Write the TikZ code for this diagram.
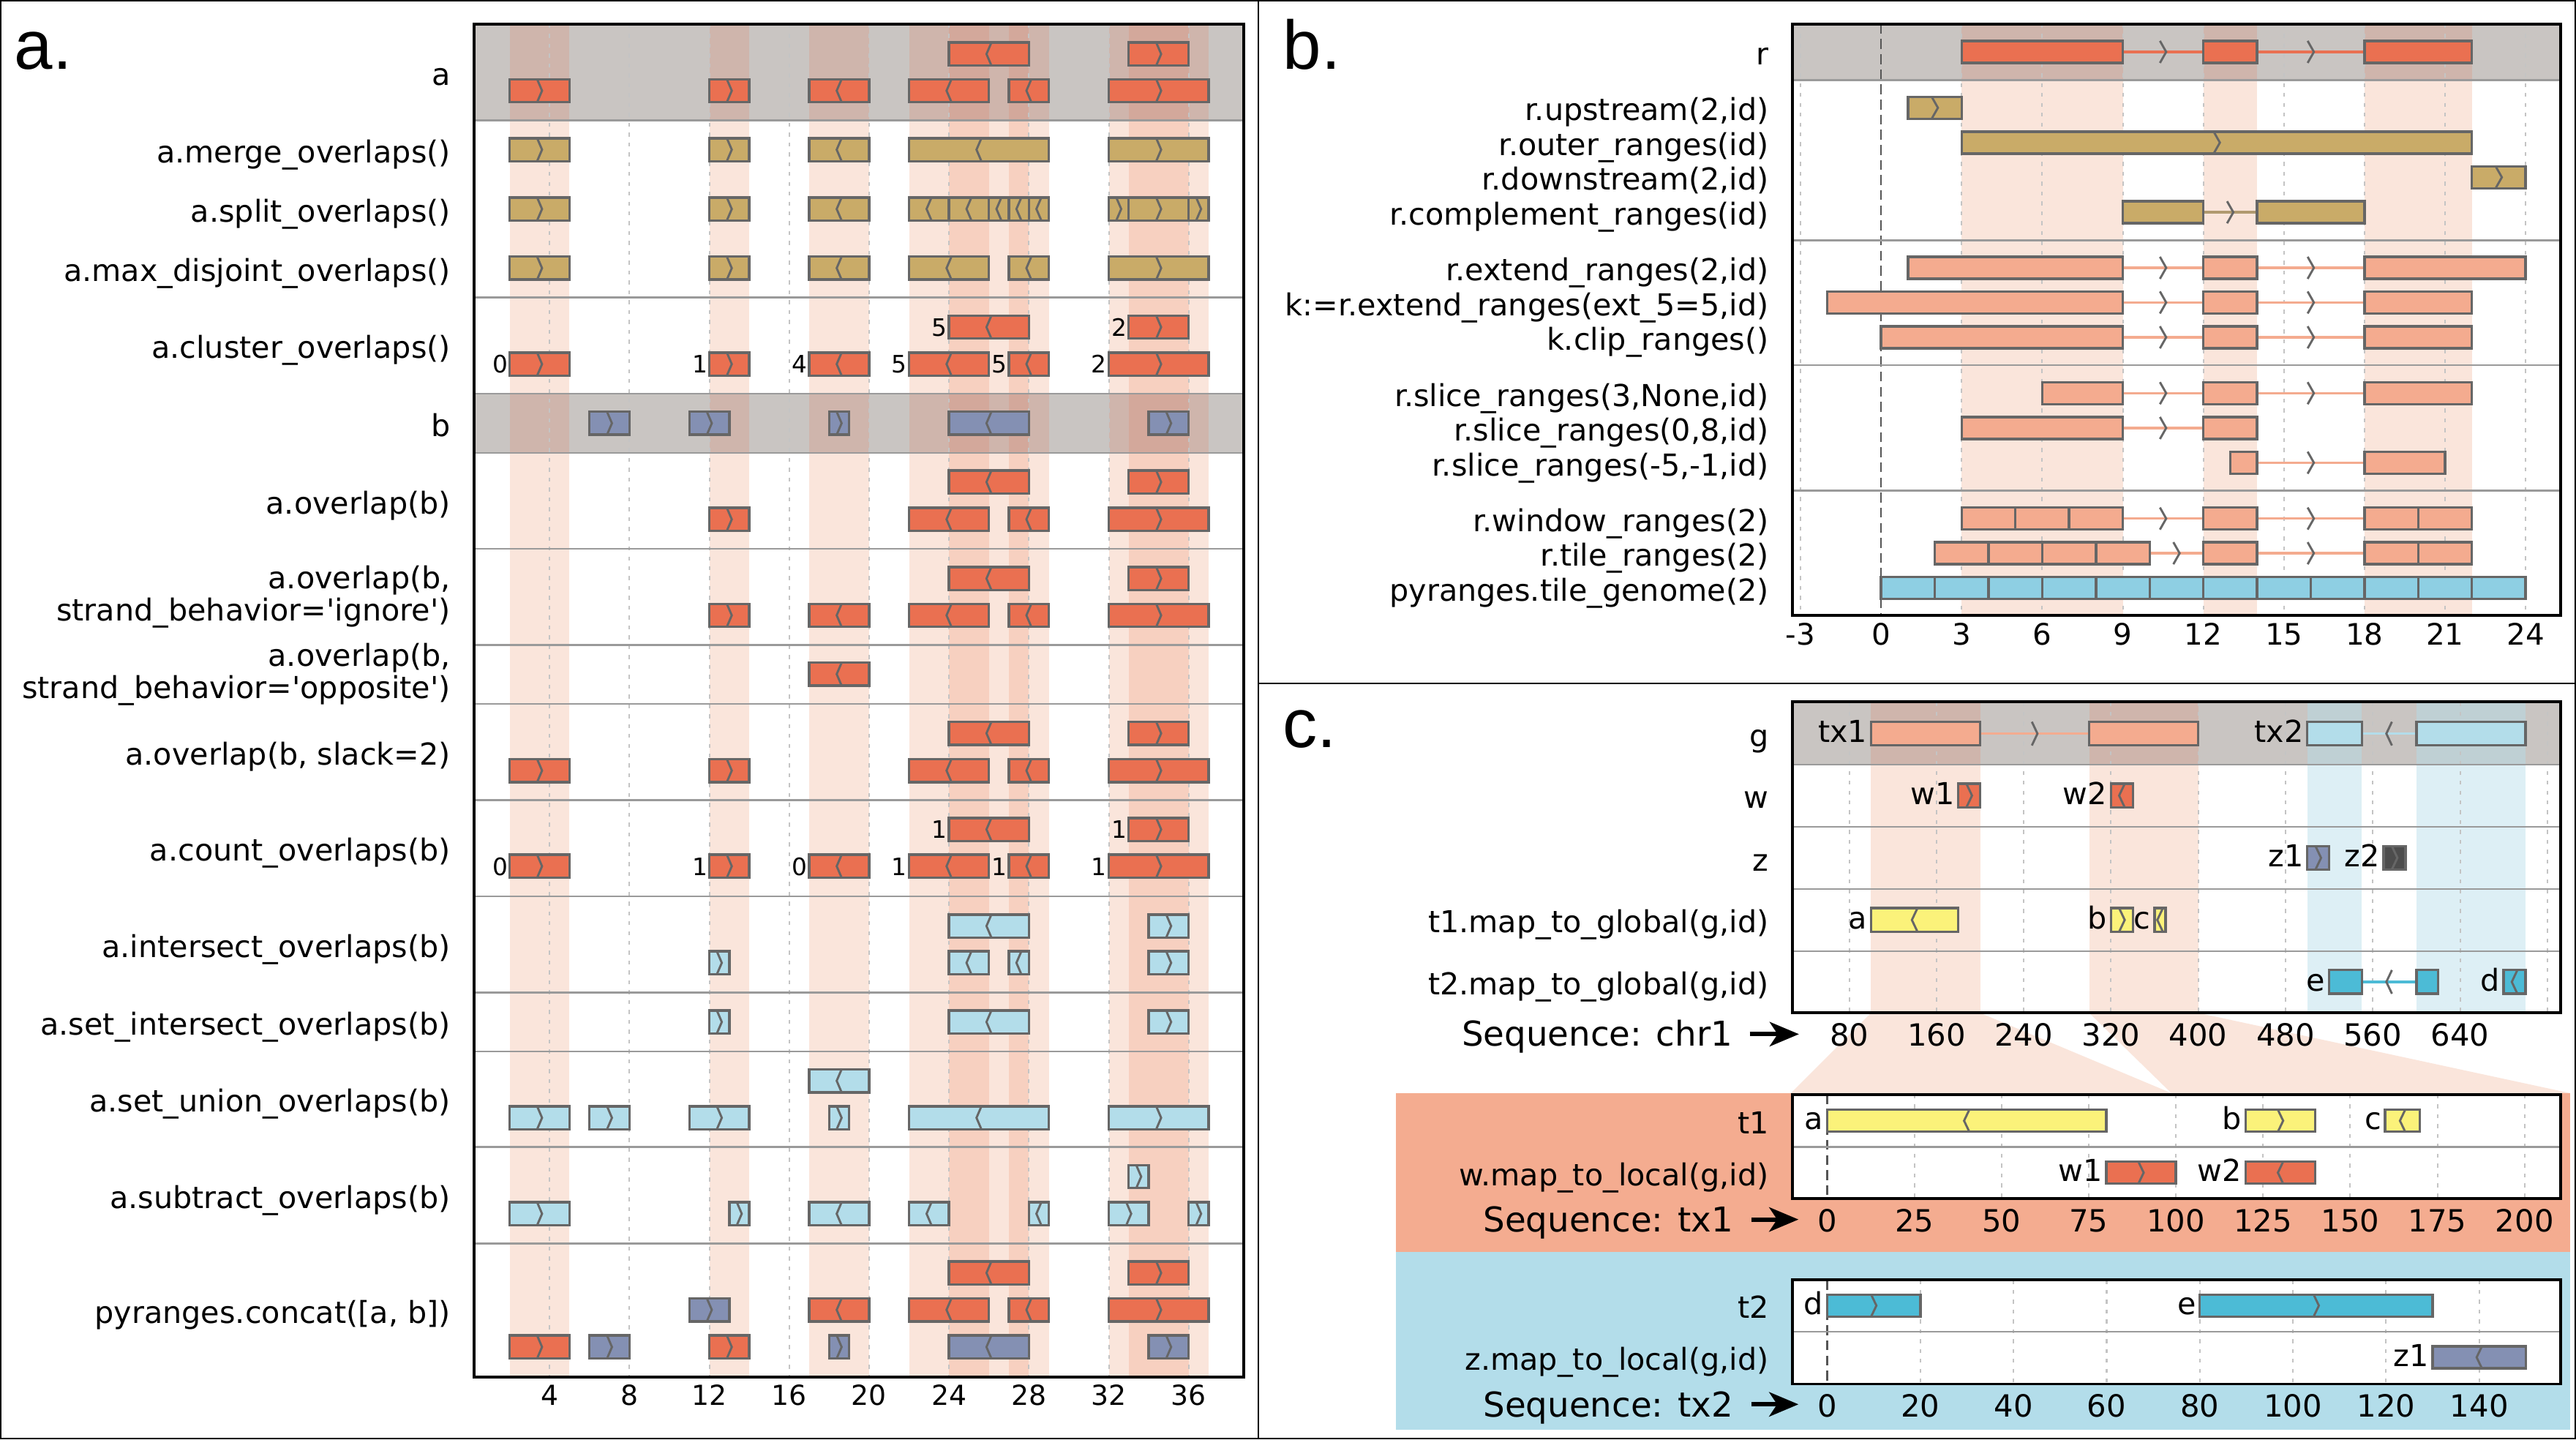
\documentclass[tikz,border=0pt]{standalone}
\usepackage{fontspec}
\setmainfont{DejaVu Sans}
\newfontfamily\letterfont{Liberation Sans}
\usetikzlibrary{arrows.meta}
\definecolor{cRed}{HTML}{EA7051}
\definecolor{cGold}{HTML}{C9AB68}
\definecolor{cBgray}{HTML}{8490B3}
\definecolor{cLblue}{HTML}{B3DDEA}
\definecolor{cSalmon}{HTML}{F4AB8F}
\definecolor{cSalmonBg}{HTML}{F4AC90}
\definecolor{cSky}{HTML}{8ECFE3}
\definecolor{cYellow}{HTML}{FBF27A}
\definecolor{cCyan}{HTML}{4CBBD6}
\definecolor{cBand}{HTML}{C9C5C2}
\definecolor{cEdge}{HTML}{666666}
\definecolor{cSep}{HTML}{9A9A9A}
\definecolor{cGrid}{HTML}{C4C4C4}
\definecolor{cDark}{HTML}{4D4D4D}
\definecolor{cBrown}{HTML}{B09A70}
\definecolor{cZero}{HTML}{555555}
\definecolor{cShL1}{HTML}{FAE5DB}
\definecolor{cShL2}{HTML}{F7D0C0}
\definecolor{cShG1}{HTML}{CFB5AC}
\definecolor{cShG2}{HTML}{D3A89B}
\definecolor{cShB1}{HTML}{DDEFF5}
\definecolor{cShBG}{HTML}{BFD0D4}
\tikzset{
 ivl/.style={draw=cEdge, line width=0.75pt},
 chev/.style={draw=cEdge, line width=0.65pt},
 intr/.style={line width=0.75pt},
 band/.style={fill=cBand},
 sepline/.style={draw=cSep, line width=0.6pt},
 gridline/.style={draw=cGrid, line width=0.45pt, dash pattern=on 1.2pt off 1.8pt},
 zeroline/.style={draw=cZero, line width=0.5pt, dash pattern=on 3pt off 1.6pt},
 plotframe/.style={draw=black, line width=0.85pt},
 thinframe/.style={draw=black, line width=0.4pt},
 lbl/.style={font=\fontsize{9.2}{9.2}\selectfont, anchor=mid east, inner sep=0pt, yshift=-1.2pt},
 lbltwo/.style={font=\fontsize{9.2}{8.8}\selectfont, anchor=east, inner sep=0pt, align=right},
 numlbl/.style={font=\fontsize{7.3}{7.3}\selectfont, anchor=mid east, inner sep=0pt, xshift=-0.4pt},
 barlbl/.style={font=\fontsize{9.2}{9.2}\selectfont, anchor=mid east, inner sep=0pt, xshift=-1pt},
 tickA/.style={font=\fontsize{8.4}{8.4}\selectfont, anchor=base, inner sep=0pt},
 tickB/.style={font=\fontsize{9}{9}\selectfont, anchor=base, inner sep=0pt},
 tickC/.style={font=\fontsize{9.3}{9.3}\selectfont, anchor=base, inner sep=0pt},
 seqlbl/.style={font=\fontsize{10.4}{10.4}\selectfont, anchor=base east, inner sep=0pt},
 seqarrow/.style={line width=1.3pt, -{Stealth[length=8.9pt,width=7.4pt,inset=2.4pt]}},
 letter/.style={font=\letterfont\fontsize{21}{21}\selectfont, anchor=base west, inner sep=0pt},
}
\def\bh{7}
\def\cw{0.75pt}
\newcommand\mychevp[2]{\draw[chev] ({#1},{#2-\bh}) ++({-\cw},0pt) -- ++({2*\cw},{-\bh*0.5pt}) -- ++({-2*\cw},{-\bh*0.5pt});}
\newcommand\mychevm[2]{\draw[chev] ({#1},{#2-\bh}) ++({\cw},0pt) -- ++({-2*\cw},{-\bh*0.5pt}) -- ++({2*\cw},{-\bh*0.5pt});}
\newcommand\mychevn[2]{}
\newcommand\myivl[5]{\filldraw[ivl,fill=#4] (#1,{#3-\bh}) rectangle (#2,{#3+\bh}); \csname mychev#5\endcsname{(#1+#2)/2}{#3}}
\newcommand\myintron[5]{\draw[intr,draw=#4] (#1,#3) -- (#2,#3); \csname mychev#5\endcsname{(#1+#2)/2}{#3}}
\newcommand\rowAhigh[1]{\myivl{24}{28}{#1}{cRed}{m}\myivl{33}{36}{#1}{cRed}{p}}
\newcommand\rowAlow[1]{\myivl{2}{5}{#1}{cRed}{p}\myivl{12}{14}{#1}{cRed}{p}\myivl{17}{20}{#1}{cRed}{m}\myivl{22}{26}{#1}{cRed}{m}\myivl{27}{29}{#1}{cRed}{m}\myivl{32}{37}{#1}{cRed}{p}}
% shaded columns of panel a between two heights, with two tints
\newcommand\colsA[4]{\begin{scope}[shift={(285.9,0)},x=6.078pt]
 \foreach \s/\e in {2/5,12/14,17/20,22/29,32/37} \fill[#3] (\s,#1) rectangle (\e,#2);
 \foreach \s/\e in {24/26,27/28,33/36} \fill[#4] (\s,#1) rectangle (\e,#2);
 \end{scope}}
\begin{document}
\begin{tikzpicture}[x=0.5pt,y=-0.5pt]
\useasboundingbox (0,0) rectangle (1568,876);
\fill[white] (0,0) rectangle (1568,876);

%%%%%%%%%%%%%%%% PANEL A
\colsA{14.7}{838}{cShL1}{cShL2}
\fill[band] (288.6,14.7) rectangle (757,73.2);
\colsA{14.7}{73.2}{cShG1}{cShG2}
\fill[band] (288.6,239.6) rectangle (757,275.6);
\colsA{239.6}{275.6}{cShG1}{cShG2}
\begin{scope}[shift={(285.9,0)},x=6.078pt]
 \foreach \t in {4,8,...,36} \draw[gridline] (\t,14.7) -- (\t,838);
\end{scope}
\foreach \yy in {73.2,181.1,239.6,275.6,334,392.5,428.4,486.9,545.5,604,639.9,698.2,756.8} \draw[sepline] (288.6,\yy) -- (757,\yy);
\begin{scope}[shift={(285.9,0)},x=6.078pt]
 \rowAhigh{32.9}\rowAlow{55.2}
 % merge
 \myivl{2}{5}{91.1}{cGold}{p}\myivl{12}{14}{91.1}{cGold}{p}\myivl{17}{20}{91.1}{cGold}{m}\myivl{22}{29}{91.1}{cGold}{m}\myivl{32}{37}{91.1}{cGold}{p}
 % split
 \myivl{2}{5}{127.2}{cGold}{p}\myivl{12}{14}{127.2}{cGold}{p}\myivl{17}{20}{127.2}{cGold}{m}
 \myivl{22}{24}{127.2}{cGold}{m}\myivl{24}{26}{127.2}{cGold}{m}\myivl{26}{27}{127.2}{cGold}{m}\myivl{27}{28}{127.2}{cGold}{m}\myivl{28}{29}{127.2}{cGold}{m}
 \myivl{32}{33}{127.2}{cGold}{p}\myivl{33}{36}{127.2}{cGold}{p}\myivl{36}{37}{127.2}{cGold}{p}
 % max disjoint
 \myivl{2}{5}{163.2}{cGold}{p}\myivl{12}{14}{163.2}{cGold}{p}\myivl{17}{20}{163.2}{cGold}{m}\myivl{22}{26}{163.2}{cGold}{m}\myivl{27}{29}{163.2}{cGold}{m}\myivl{32}{37}{163.2}{cGold}{p}
 % cluster
 \rowAhigh{199.1}\rowAlow{221.6}
 \node[numlbl] (cl1) at (24,199.1) {5}; \node[numlbl] (cl2) at (33,199.1) {2};
 \node[numlbl] (cl3) at (2,221.6) {0}; \node[numlbl] (cl4) at (12,221.6) {1};
 \node[numlbl] (cl5) at (17,221.6) {4}; \node[numlbl] (cl6) at (22,221.6) {5};
 \node[numlbl] (cl7) at (27,221.6) {5}; \node[numlbl] (cl8) at (32,221.6) {2};
 % b
 \myivl{6}{8}{257.6}{cBgray}{p}\myivl{11}{13}{257.6}{cBgray}{p}\myivl{18}{19}{257.6}{cBgray}{p}\myivl{24}{28}{257.6}{cBgray}{m}\myivl{34}{36}{257.6}{cBgray}{p}
 % overlap
 \rowAhigh{293.4}
 \myivl{12}{14}{316.1}{cRed}{p}\myivl{22}{26}{316.1}{cRed}{m}\myivl{27}{29}{316.1}{cRed}{m}\myivl{32}{37}{316.1}{cRed}{p}
 % ignore
 \rowAhigh{352.1}
 \myivl{12}{14}{374.5}{cRed}{p}\myivl{17}{20}{374.5}{cRed}{m}\myivl{22}{26}{374.5}{cRed}{m}\myivl{27}{29}{374.5}{cRed}{m}\myivl{32}{37}{374.5}{cRed}{p}
 % opposite
 \myivl{17}{20}{410.3}{cRed}{m}
 % slack
 \rowAhigh{446.3}
 \myivl{2}{5}{469}{cRed}{p}\myivl{12}{14}{469}{cRed}{p}\myivl{22}{26}{469}{cRed}{m}\myivl{27}{29}{469}{cRed}{m}\myivl{32}{37}{469}{cRed}{p}
 % count
 \rowAhigh{504.8}\rowAlow{527.2}
 \node[numlbl] (co1) at (24,504.8) {1}; \node[numlbl] (co2) at (33,504.8) {1};
 \node[numlbl] (co3) at (2,527.2) {0}; \node[numlbl] (co4) at (12,527.2) {1};
 \node[numlbl] (co5) at (17,527.2) {0}; \node[numlbl] (co6) at (22,527.2) {1};
 \node[numlbl] (co7) at (27,527.2) {1}; \node[numlbl] (co8) at (32,527.2) {1};
 % intersect
 \myivl{24}{28}{563.6}{cLblue}{m}\myivl{34}{36}{563.6}{cLblue}{p}
 \myivl{12}{13}{586}{cLblue}{p}\myivl{24}{26}{586}{cLblue}{m}\myivl{27}{28}{586}{cLblue}{m}\myivl{34}{36}{586}{cLblue}{p}
 % set intersect
 \myivl{12}{13}{622}{cLblue}{p}\myivl{24}{28}{622}{cLblue}{m}\myivl{34}{36}{622}{cLblue}{p}
 % union
 \myivl{17}{20}{657.8}{cLblue}{m}
 \myivl{2}{5}{680.3}{cLblue}{p}\myivl{6}{8}{680.3}{cLblue}{p}\myivl{11}{14}{680.3}{cLblue}{p}\myivl{18}{19}{680.3}{cLblue}{p}\myivl{22}{29}{680.3}{cLblue}{m}\myivl{32}{37}{680.3}{cLblue}{p}
 % subtract
 \myivl{33}{34}{716.1}{cLblue}{p}
 \myivl{2}{5}{738.7}{cLblue}{p}\myivl{13}{14}{738.7}{cLblue}{p}\myivl{17}{20}{738.7}{cLblue}{m}\myivl{22}{24}{738.7}{cLblue}{m}\myivl{28}{29}{738.7}{cLblue}{m}\myivl{32}{34}{738.7}{cLblue}{p}\myivl{36}{37}{738.7}{cLblue}{p}
 % concat
 \rowAhigh{774.7}
 \myivl{11}{13}{797.2}{cBgray}{p}\myivl{17}{20}{797.2}{cRed}{m}\myivl{22}{26}{797.2}{cRed}{m}\myivl{27}{29}{797.2}{cRed}{m}\myivl{32}{37}{797.2}{cRed}{p}
 \myivl{2}{5}{819.8}{cRed}{p}\myivl{6}{8}{819.8}{cBgray}{p}\myivl{12}{14}{819.8}{cRed}{p}\myivl{18}{19}{819.8}{cBgray}{p}\myivl{24}{28}{819.8}{cBgray}{m}\myivl{34}{36}{819.8}{cBgray}{p}
 % ticks
 \foreach \t in {4,8,...,36} \node[tickA] (ta\t) at (\t,855.2) {\t};
\end{scope}
\draw[plotframe] (288.6,14.7) rectangle (757,838);
\node[lbl] (la0) at (274.6,44) {a};
\node[lbl] (la1) at (274.6,91.1) {a.merge\_overlaps()};
\node[lbl] (la2) at (274.6,127.2) {a.split\_overlaps()};
\node[lbl] (la3) at (274.6,163.2) {a.max\_disjoint\_overlaps()};
\node[lbl] (la4) at (274.6,210.3) {a.cluster\_overlaps()};
\node[lbl] (la5) at (274.6,257.6) {b};
\node[lbl] (la6) at (274.6,304.8) {a.overlap(b)};
\node[lbltwo] (la7) at (274.6,363.2) {a.overlap(b,\\strand\_behavior=\textquotesingle ignore\textquotesingle)};
\node[lbltwo] (la8) at (274.6,410.4) {a.overlap(b,\\strand\_behavior=\textquotesingle opposite\textquotesingle)};
\node[lbl] (la9) at (274.6,457.6) {a.overlap(b, slack=2)};
\node[lbl] (la10) at (274.6,516.2) {a.count\_overlaps(b)};
\node[lbl] (la11) at (274.6,574.8) {a.intersect\_overlaps(b)};
\node[lbl] (la12) at (274.6,622) {a.set\_intersect\_overlaps(b)};
\node[lbl] (la13) at (274.6,669) {a.set\_union\_overlaps(b)};
\node[lbl] (la14) at (274.6,727.5) {a.subtract\_overlaps(b)};
\node[lbl] (la15) at (274.6,797.3) {pyranges.concat([a, b])};

%%%%%%%%%%%%%%%% PANEL B
\begin{scope}[shift={(1145,0)},x=8.173pt]
 \foreach \s/\e in {3/9,12/14,18/22} \fill[cShL1] (\s,14.6) rectangle (\e,374.5);
\end{scope}
\fill[band] (1091,14.6) rectangle (1558.7,48.7);
\begin{scope}[shift={(1145,0)},x=8.173pt]
 \foreach \s/\e in {3/9,12/14,18/22} \fill[cShG1] (\s,14.6) rectangle (\e,48.7);
 \foreach \t in {-3,3,6,...,24} \draw[gridline] (\t,14.6) -- (\t,374.5);
 \draw[zeroline] (0,14.6) -- (0,374.5);
\end{scope}
\foreach \yy in {48.7,146.2,222.2,298.5} \draw[sepline] (1091,\yy) -- (1558.7,\yy);
\begin{scope}[shift={(1145,0)},x=8.173pt]
 \def\bh{6.7}\def\cw{0.95pt}
 % r
 \myintron{9}{12}{31.6}{cRed}{p}\myintron{14}{18}{31.6}{cRed}{p}
 \myivl{3}{9}{31.6}{cRed}{n}\myivl{12}{14}{31.6}{cRed}{n}\myivl{18}{22}{31.6}{cRed}{n}
 \myivl{1}{3}{65.6}{cGold}{p}
 \myivl{3}{22}{86.8}{cGold}{p}
 \myivl{22}{24}{107.9}{cGold}{p}
 \myintron{12}{14}{129.2}{cBrown}{p}\myivl{9}{12}{129.2}{cGold}{n}\myivl{14}{18}{129.2}{cGold}{n}
 % extend
 \myintron{9}{12}{163}{cSalmon}{p}\myintron{14}{18}{163}{cSalmon}{p}
 \myivl{1}{9}{163}{cSalmon}{n}\myivl{12}{14}{163}{cSalmon}{n}\myivl{18}{24}{163}{cSalmon}{n}
 \myintron{9}{12}{184.1}{cSalmon}{p}\myintron{14}{18}{184.1}{cSalmon}{p}
 \myivl{-2}{9}{184.1}{cSalmon}{n}\myivl{12}{14}{184.1}{cSalmon}{n}\myivl{18}{22}{184.1}{cSalmon}{n}
 \myintron{9}{12}{205.3}{cSalmon}{p}\myintron{14}{18}{205.3}{cSalmon}{p}
 \myivl{0}{9}{205.3}{cSalmon}{n}\myivl{12}{14}{205.3}{cSalmon}{n}\myivl{18}{22}{205.3}{cSalmon}{n}
 % slice
 \myintron{9}{12}{239.3}{cSalmon}{p}\myintron{14}{18}{239.3}{cSalmon}{p}
 \myivl{6}{9}{239.3}{cSalmon}{n}\myivl{12}{14}{239.3}{cSalmon}{n}\myivl{18}{22}{239.3}{cSalmon}{n}
 \myintron{9}{12}{260.5}{cSalmon}{p}
 \myivl{3}{9}{260.5}{cSalmon}{n}\myivl{12}{14}{260.5}{cSalmon}{n}
 \myintron{14}{18}{281.6}{cSalmon}{p}
 \myivl{13}{14}{281.6}{cSalmon}{n}\myivl{18}{21}{281.6}{cSalmon}{n}
 % window
 \myintron{9}{12}{315.6}{cSalmon}{p}\myintron{14}{18}{315.6}{cSalmon}{p}
 \myivl{3}{5}{315.6}{cSalmon}{n}\myivl{5}{7}{315.6}{cSalmon}{n}\myivl{7}{9}{315.6}{cSalmon}{n}
 \myivl{12}{14}{315.6}{cSalmon}{n}\myivl{18}{20}{315.6}{cSalmon}{n}\myivl{20}{22}{315.6}{cSalmon}{n}
 % tile
 \myintron{10}{12}{336.7}{cSalmon}{p}\myintron{14}{18}{336.7}{cSalmon}{p}
 \myivl{2}{4}{336.7}{cSalmon}{n}\myivl{4}{6}{336.7}{cSalmon}{n}\myivl{6}{8}{336.7}{cSalmon}{n}\myivl{8}{10}{336.7}{cSalmon}{n}
 \myivl{12}{14}{336.7}{cSalmon}{n}\myivl{18}{20}{336.7}{cSalmon}{n}\myivl{20}{22}{336.7}{cSalmon}{n}
 % genome
 \foreach \s in {0,2,...,22} {\myivl{\s}{\s+2}{357.8}{cSky}{n}}
 \foreach \t [count=\i] in {-3,0,3,...,24} \node[tickB] (tb\i) at (\t,392.6) {\t};
\end{scope}
\draw[plotframe] (1091,14.6) rectangle (1558.7,374.5);
\node[lbl] (lb0) at (1077,31.6) {r};
\node[lbl] (lb1) at (1077,65.6) {r.upstream(2,id)};
\node[lbl] (lb2) at (1077,86.8) {r.outer\_ranges(id)};
\node[lbl] (lb3) at (1077,107.9) {r.downstream(2,id)};
\node[lbl] (lb4) at (1077,129.2) {r.complement\_ranges(id)};
\node[lbl] (lb5) at (1077,163) {r.extend\_ranges(2,id)};
\node[lbl] (lb6) at (1077,184.1) {k:=r.extend\_ranges(ext\_5=5,id)};
\node[lbl] (lb7) at (1077,205.3) {k.clip\_ranges()};
\node[lbl] (lb8) at (1077,239.3) {r.slice\_ranges(3,None,id)};
\node[lbl] (lb9) at (1077,260.5) {r.slice\_ranges(0,8,id)};
\node[lbl] (lb10) at (1077,281.6) {r.slice\_ranges(-5,-1,id)};
\node[lbl] (lb11) at (1077,315.6) {r.window\_ranges(2)};
\node[lbl] (lb12) at (1077,336.7) {r.tile\_ranges(2)};
\node[lbl] (lb13) at (1077,357.8) {pyranges.tile\_genome(2)};

%%%%%%%%%%%%%%%% PANEL C
\fill[cShL1] (1138.9,616.5) -- (1205.3,616.5) -- (1321.7,665.3) -- (1090.1,665.3) -- cycle;
\fill[cShL1] (1271.7,616.5) -- (1338.1,616.5) -- (1564.4,665.3) -- (1321.7,665.3) -- cycle;
\begin{scope}[shift={(1072.5,0)},x=0.33195pt]
 \fill[cShL1] (100,427.2) rectangle (200,616.5);
 \fill[cShL1] (300,427.2) rectangle (400,616.5);
 \fill[cShB1] (500,427.2) rectangle (550,616.5);
 \fill[cShB1] (600,427.2) rectangle (700,616.5);
\end{scope}
\fill[band] (1091,427.2) rectangle (1558.8,465.4);
\begin{scope}[shift={(1072.5,0)},x=0.33195pt]
 \fill[cShG1] (100,427.2) rectangle (200,465.4);
 \fill[cShG1] (300,427.2) rectangle (400,465.4);
 \fill[cShBG] (500,427.2) rectangle (550,465.4);
 \fill[cShBG] (600,427.2) rectangle (700,465.4);
 \foreach \t in {80,160,...,720} \draw[gridline] (\t,427.2) -- (\t,616.5);
\end{scope}
\foreach \yy in {465.4,503.2,541.1,578.9} \draw[sepline] (1091,\yy) -- (1558.8,\yy);
\begin{scope}[shift={(1072.5,0)},x=0.33195pt]
 \def\bh{7.2}\def\cw{0.85pt}
 \myintron{200}{300}{446.5}{cSalmon}{p}\myivl{100}{200}{446.5}{cSalmon}{n}\myivl{300}{400}{446.5}{cSalmon}{n}
 \myintron{550}{600}{446.5}{cLblue}{m}\myivl{500}{550}{446.5}{cLblue}{n}\myivl{600}{700}{446.5}{cLblue}{n}
 \myivl{180}{200}{484.2}{cRed}{p}\myivl{320}{340}{484.2}{cRed}{m}
 \myivl{500}{520}{522.1}{cBgray}{p}\myivl{570}{590}{522.1}{cDark}{p}
 \myivl{100}{180}{559.9}{cYellow}{m}\myivl{320}{340}{559.9}{cYellow}{p}\myivl{360}{370}{559.9}{cYellow}{m}
 \myintron{550}{600}{597.6}{cCyan}{m}\myivl{520}{550}{597.6}{cCyan}{n}\myivl{600}{620}{597.6}{cCyan}{n}\myivl{680}{700}{597.6}{cCyan}{m}
 \node[barlbl] (ltx1) at (100,446.5) {tx1};
 \node[barlbl] (ltx2) at (500,446.5) {tx2};
 \node[barlbl] (lw1) at (180,484.2) {w1};
 \node[barlbl] (lw2) at (320,484.2) {w2};
 \node[barlbl] (lz1) at (500,522.1) {z1};
 \node[barlbl] (lz2) at (570,522.1) {z2};
 \node[barlbl] (lca) at (100,559.9) {a};
 \node[barlbl] (lcb) at (320,559.9) {b};
 \node[barlbl] (lcc) at (360,559.9) {c};
 \node[barlbl] (lce) at (520,597.6) {e};
 \node[barlbl] (lcd) at (680,597.6) {d};
 \foreach \t in {80,160,...,640} \node[tickC] (tc\t) at (\t,636.6) {\t};
\end{scope}
\draw[plotframe] (1091,427.2) rectangle (1558.8,616.5);
\node[lbl] (lc0) at (1077,446.5) {g};
\node[lbl] (lc1) at (1077,484.2) {w};
\node[lbl] (lc2) at (1077,522.1) {z};
\node[lbl] (lc3) at (1077,559.9) {t1.map\_to\_global(g,id)};
\node[lbl] (lc4) at (1077,597.6) {t2.map\_to\_global(g,id)};
\node[seqlbl] (seq0) at (1055,636.5) {Sequence: chr1};
\coordinate (arr0s) at (1065,629.4); \coordinate (arr0e) at (1095,629.4);
\draw[seqarrow] (arr0s) -- (arr0e);

% sub-panels
\fill[cSalmonBg] (849.8,665.3) rectangle (1564.4,761.8);
\fill[cLblue] (849.8,761.8) rectangle (1564.4,870.2);
\fill[white] (1091,666.2) rectangle (1558.8,729.5);
\fill[white] (1091,779) rectangle (1558.8,842.3);
\begin{scope}[shift={(1112.2,0)},x=1.06125pt]
 \foreach \t in {25,50,...,200} \draw[gridline] (\t,666.2) -- (\t,729.5);
 \draw[zeroline] (0,666.2) -- (0,729.5);
\end{scope}
\draw[sepline] (1091,698) -- (1558.8,698);
\begin{scope}[shift={(1112.2,0)},x=1.06125pt]
 \def\bh{6.7}\def\cw{0.8pt}
 \myivl{0}{80}{682.1}{cYellow}{m}\myivl{120}{140}{682.1}{cYellow}{p}\myivl{160}{170}{682.1}{cYellow}{m}
 \myivl{80}{100}{713.7}{cRed}{p}\myivl{120}{140}{713.7}{cRed}{m}
 \node[barlbl] (lta) at (0,682.1) {a};
 \node[barlbl] (ltb) at (120,682.1) {b};
 \node[barlbl] (ltc) at (160,682.1) {c};
 \node[barlbl] (ltw1) at (80,713.7) {w1};
 \node[barlbl] (ltw2) at (120,713.7) {w2};
 \foreach \t in {0,25,...,200} \node[tickC] (td\t) at (\t,749.7) {\t};
\end{scope}
\draw[plotframe] (1091,666.2) rectangle (1558.8,729.5);
\node[lbl] (ls0) at (1077,682.1) {t1};
\node[lbl] (ls1) at (1077,713.7) {w.map\_to\_local(g,id)};
\node[seqlbl] (seq1) at (1055.4,749.8) {Sequence: tx1};
\coordinate (arr1s) at (1066,742.2); \coordinate (arr1e) at (1094.7,742.2);
\draw[seqarrow] (arr1s) -- (arr1e);

\begin{scope}[shift={(1112.2,0)},x=1.4175pt]
 \foreach \t in {20,40,...,140} \draw[gridline] (\t,779) -- (\t,842.3);
 \draw[zeroline] (0,779) -- (0,842.3);
\end{scope}
\draw[sepline] (1091,810.5) -- (1558.8,810.5);
\begin{scope}[shift={(1112.2,0)},x=1.4175pt]
 \def\bh{6.7}\def\cw{0.8pt}
 \myivl{0}{20}{794.6}{cCyan}{p}\myivl{80}{130}{794.6}{cCyan}{p}
 \myivl{130}{150}{826.1}{cBgray}{m}
 \node[barlbl] (ltd) at (0,794.6) {d};
 \node[barlbl] (lte) at (80,794.6) {e};
 \node[barlbl] (ltz1) at (130,826.1) {z1};
 \foreach \t in {0,20,...,140} \node[tickC] (te\t) at (\t,862.2) {\t};
\end{scope}
\draw[plotframe] (1091,779) rectangle (1558.8,842.3);
\node[lbl] (ls2) at (1077,794.6) {t2};
\node[lbl] (ls3) at (1077,826.1) {z.map\_to\_local(g,id)};
\node[seqlbl] (seq2) at (1055.4,862.3) {Sequence: tx2};
\coordinate (arr2s) at (1066,854.7); \coordinate (arr2e) at (1094.7,854.7);
\draw[seqarrow] (arr2s) -- (arr2e);

%%%%%%%%%%%%%%%% frames and letters
\draw[thinframe] (0.4,0.4) rectangle (1567.6,875.6);
\draw[thinframe] (766,0) -- (766,876);
\draw[thinframe] (766,416) -- (1568,416);
\node[letter] (pa) at (8.5,42.3) {a.};
\node[letter] (pb) at (780.5,42.2) {b.};
\node[letter] (pc) at (780.5,454.8) {c.};
\end{tikzpicture}
\end{document}
